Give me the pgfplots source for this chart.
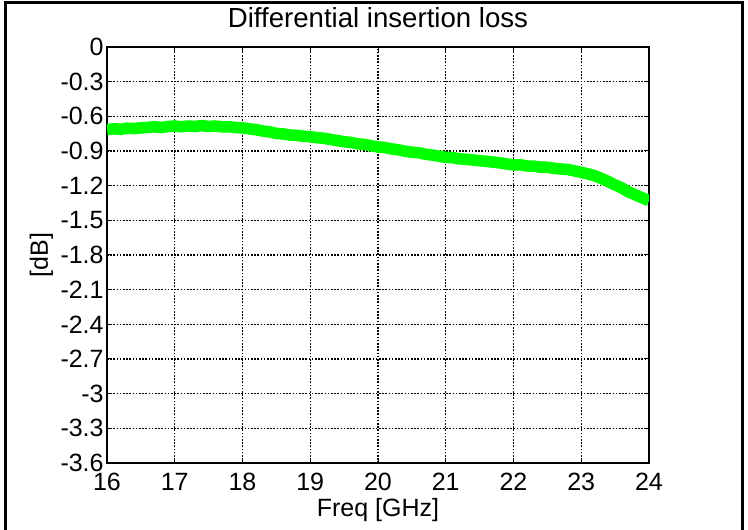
\documentclass[border=0pt]{standalone}
\usepackage{fontspec}
\setmainfont{Liberation Sans}
\usepackage{pgfplots}
\pgfplotsset{compat=1.18}
\definecolor{lossgreen}{RGB}{0,255,0}

\begin{document}
\begin{tikzpicture}
\useasboundingbox (-53.5pt,-33pt) rectangle (320.5pt,231.5pt);
\begin{axis}[
at={(0,0)}, anchor=south west,
scale only axis, width=271pt, height=208pt,
xmin=16, xmax=24, ymin=-3.6, ymax=0,
xtick={16,17,18,19,20,21,22,23,24},
ytick={-3.6,-3.3,-3,-2.7,-2.4,-2.1,-1.8,-1.5,-1.2,-0.9,-0.6,-0.3,0},
yticklabels={-3.6,-3.3,-3,-2.7,-2.4,-2.1,-1.8,-1.5,-1.2,-0.9,-0.6,-0.3,0},
/pgf/number format/assume math mode=true,
tick align=inside, major tick length=2.5pt,
tick style={black, line width=0.5pt},
axis line style={black, line width=0.8pt},
grid=major,
grid style={black, line width=0.6pt, dash pattern=on 0.8pt off 0.8pt},
tick label style={font=\fontsize{12.5}{14}\selectfont},
yticklabel style={inner sep=1.5pt},
xticklabel style={anchor=base, yshift=-14pt},
label style={font=\fontsize{12.5}{14}\selectfont},
xlabel={Freq [GHz]},
xlabel style={at={(axis description cs:0.5,0)}, anchor=base, yshift=-27pt},
ylabel={[dB]},
ylabel style={at={(axis description cs:-0.1089,0.5)}, anchor=base},
title={Differential insertion loss},
title style={at={(axis description cs:0.5,1)}, anchor=base, yshift=3.5pt, font=\fontsize{13.8}{16}\selectfont},
]
\addplot[lossgreen, line width=5.8pt, line join=round] table {
16.0 -0.715
16.1 -0.708
16.2 -0.712
16.3 -0.703
16.4 -0.706
16.5 -0.700
16.6 -0.696
16.7 -0.690
16.8 -0.697
16.9 -0.688
17.0 -0.685
17.1 -0.690
17.2 -0.684
17.3 -0.688
17.4 -0.680
17.5 -0.688
17.6 -0.684
17.7 -0.691
17.8 -0.690
17.9 -0.697
18.0 -0.700
18.1 -0.708
18.2 -0.716
18.3 -0.727
18.4 -0.735
18.5 -0.748
18.6 -0.752
18.7 -0.762
18.8 -0.765
18.9 -0.772
19.0 -0.776
19.1 -0.785
19.2 -0.790
19.3 -0.800
19.4 -0.810
19.5 -0.820
19.6 -0.826
19.7 -0.838
19.8 -0.843
19.9 -0.855
20.0 -0.865
20.1 -0.870
20.2 -0.882
20.3 -0.890
20.4 -0.902
20.5 -0.911
20.6 -0.915
20.7 -0.928
20.8 -0.935
20.9 -0.945
21.0 -0.955
21.1 -0.958
21.2 -0.968
21.3 -0.972
21.4 -0.978
21.5 -0.984
21.6 -0.990
21.7 -0.996
21.8 -1.003
21.9 -1.012
22.0 -1.021
22.1 -1.020
22.2 -1.030
22.3 -1.032
22.4 -1.040
22.5 -1.041
22.6 -1.050
22.7 -1.056
22.8 -1.060
22.9 -1.072
23.0 -1.085
23.1 -1.098
23.2 -1.115
23.3 -1.138
23.4 -1.165
23.5 -1.194
23.6 -1.220
23.7 -1.255
23.8 -1.280
23.9 -1.305
24.0 -1.330
};
\end{axis}
\draw[line width=1.5pt] (-50.5pt,-40pt) -- (-50.5pt,230pt) -- (317.5pt,230pt) -- (317.5pt,-40pt);
\end{tikzpicture}
\end{document}
